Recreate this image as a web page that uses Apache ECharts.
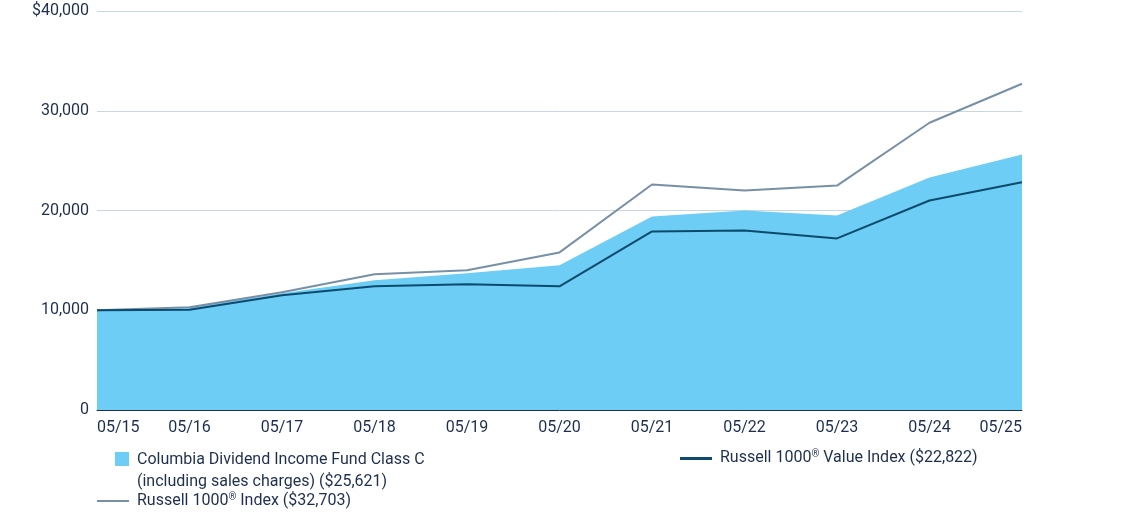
<!DOCTYPE html>
<html><head><meta charset="utf-8">
<script src="https://cdn.jsdelivr.net/npm/echarts@6/dist/echarts.min.js"></script>
<style>html,body{margin:0;padding:0;background:#fff}#c{width:1121px;height:515px}</style>
</head><body><div id="c"></div>
<script>
var categories = ['05/15','05/16','05/17','05/18','05/19','05/20','05/21','05/22','05/23','05/24','05/25'];
var fundValues = [10000,10300,11700,13000,13700,14500,19400,20000,19500,23300,25621];
var valueIndex = [10000,10050,11500,12400,12600,12400,17900,18000,17200,21000,22822];
var broadIndex = [10000,10300,11800,13600,14000,15800,22600,22000,22500,28800,32703];
var yTicks = [0,10000,20000,30000,40000];

var textColor = '#1d2f4f';
var fontFam = 'Roboto, sans-serif';

function endLabel(v, off) {
    return {
        show: true, position: 'right', distance: 6, offset: [0, off || 0],
        formatter: function (p) { return p.dataIndex === categories.length - 1 ? '$' + v.toLocaleString('en-US') : ''; },
        color: textColor, fontSize: 16, fontFamily: fontFam
    };
}

var myChart = echarts.init(document.getElementById('c'));
var option = {
    animation: false,
    grid: {left: 97, right: 99, top: 11, bottom: 105},
    xAxis: {
        type: 'category', data: categories, boundaryGap: false,
        axisLine: {lineStyle: {color: '#1d2f4f'}}, axisTick: {show: false},
        axisLabel: {color: textColor, fontSize: 16, fontFamily: fontFam, margin: 10,
            alignMinLabel: 'left', alignMaxLabel: 'right'}
    },
    yAxis: {
        type: 'value', min: yTicks[0], max: yTicks[yTicks.length - 1], interval: 10000,
        axisLine: {show: false}, axisTick: {show: false},
        splitLine: {lineStyle: {color: '#c9d6e3'}},
        axisLabel: {color: textColor, fontSize: 16, fontFamily: fontFam, margin: 8,
            formatter: function (v) { return v === 40000 ? '$40,000' : v.toLocaleString('en-US'); }}
    },
    series: [
        {name: 'fund', type: 'line', data: fundValues, symbol: 'none',
            lineStyle: {width: 0}, areaStyle: {color: '#6dcdf5', opacity: 1},
            label: endLabel(25621, -4), z: 1},
        {name: 'broad', type: 'line', data: broadIndex, symbol: 'none',
            lineStyle: {color: '#7890a6', width: 2}, label: endLabel(32703), z: 2},
        {name: 'value', type: 'line', data: valueIndex, symbol: 'none',
            lineStyle: {color: '#0c4a6e', width: 2}, label: endLabel(22822), z: 3}
    ],
    graphic: [
        {type: 'rect', left: 115, top: 452, shape: {width: 14, height: 14}, style: {fill: '#6dcdf5'}},
        {type: 'text', left: 137, top: 449, style: {text: 'Columbia Dividend Income Fund Class C\n(including sales charges) ($25,621)',
            fill: textColor, font: '16px Roboto, sans-serif', lineHeight: 22}},
        {type: 'rect', left: 97, top: 500, shape: {width: 32, height: 2}, style: {fill: '#7890a6'}},
        {type: 'text', left: 137, top: 492, style: {rich: {a: {fontSize: 16, fontFamily: fontFam, fill: textColor},
            s: {fontSize: 10, fontFamily: fontFam, fill: textColor, verticalAlign: 'top', padding: [0, 0, 8, 0]}},
            text: '{a|Russell 1000}{s|®}{a| Index ($32,703)}'}},
        {type: 'rect', left: 680, top: 457, shape: {width: 32, height: 3}, style: {fill: '#0c4a6e'}},
        {type: 'text', left: 720, top: 449, style: {rich: {a: {fontSize: 16, fontFamily: fontFam, fill: textColor},
            s: {fontSize: 10, fontFamily: fontFam, fill: textColor, verticalAlign: 'top', padding: [0, 0, 8, 0]}},
            text: '{a|Russell 1000}{s|®}{a| Value Index ($22,822)}'}}
    ]
};
myChart.setOption(option);
</script></body></html>
